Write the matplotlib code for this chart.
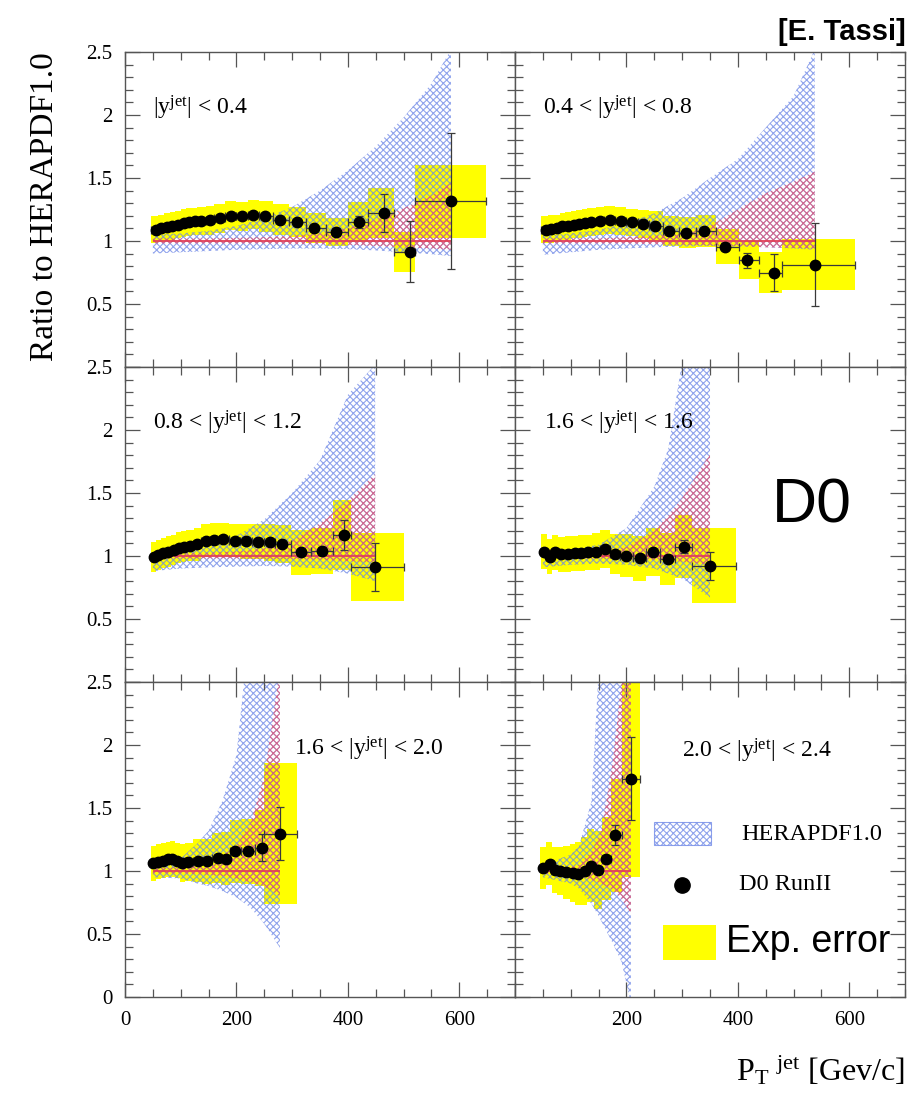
import numpy as np
import matplotlib
matplotlib.use("Agg")
import matplotlib.pyplot as plt
from matplotlib.patches import Rectangle
from matplotlib.ticker import MultipleLocator, FuncFormatter

plt.rcParams['font.family'] = ['Liberation Serif', 'DejaVu Serif']
plt.rcParams['mathtext.fontset'] = 'custom'
plt.rcParams['mathtext.rm'] = 'Liberation Serif'
plt.rcParams['mathtext.it'] = 'Liberation Serif:italic'
plt.rcParams['hatch.linewidth'] = 0.8

YELLOW = '#ffff00'
BLUE = (0.42, 0.52, 0.90, 0.75)
RED = (0.93, 0.30, 0.40, 0.70)
HATCH = 'xxxxx'
FRAME = '#555555'

# ---------------------------------------------------------------------------
# D0 Run II inclusive jets, ratio to HERAPDF1.0, one block per rapidity bin
# pt: point position, edges: bin edges, r: ratio, stat: stat error, syst: exp. error
# band_*: HERAPDF1.0 uncertainty bands (blue = total, red = experimental)
# ---------------------------------------------------------------------------
labels = [r"|y$^{\rm jet}$| < 0.4",
          r"0.4 < |y$^{\rm jet}$| < 0.8",
          r"0.8 < |y$^{\rm jet}$| < 1.2",
          r"1.6 < |y$^{\rm jet}$| < 1.6",
          r"1.6 < |y$^{\rm jet}$| < 2.0",
          r"2.0 < |y$^{\rm jet}$| < 2.4"]

# |y| < 0.4
pt1 = [55, 65, 75, 85, 95, 105, 115, 125, 137, 152, 170, 190, 210, 230, 252, 278, 309, 340, 378, 420, 465, 512, 585]
edges1 = [47, 60, 70, 80, 90, 100, 110, 120, 130, 145, 160, 180, 200, 220, 240, 265, 295, 325, 360, 400, 437, 482, 520, 648]
r1 = [1.09, 1.10, 1.11, 1.12, 1.13, 1.145, 1.15, 1.155, 1.16, 1.165, 1.18, 1.20, 1.195, 1.21, 1.195, 1.17, 1.15, 1.10, 1.07, 1.15, 1.22, 0.915, 1.315]
stat1 = [0, 0, 0, 0, 0, 0, 0, 0, 0, 0, 0, 0, 0, 0, 0.01, 0.01, 0.015, 0.02, 0.03, 0.05, 0.15, 0.24, 0.54]
syst1 = [0.11, 0.11, 0.11, 0.11, 0.11, 0.11, 0.11, 0.11, 0.11, 0.115, 0.115, 0.115, 0.115, 0.115,
         0.12, 0.12, 0.12, 0.12, 0.11, 0.16, 0.20, 0.16, 0.29]
band_pt1 = [50, 100, 150, 200, 250, 300, 350, 400, 450, 500, 550, 585]
blue_hi1 = [1.05, 1.06, 1.08, 1.12, 1.18, 1.27, 1.40, 1.56, 1.75, 1.98, 2.25, 2.52]
blue_lo1 = [0.90, 0.91, 0.92, 0.93, 0.935, 0.94, 0.94, 0.935, 0.925, 0.91, 0.895, 0.88]
red_hi1 = [1.02, 1.02, 1.02, 1.025, 1.03, 1.04, 1.06, 1.10, 1.17, 1.26, 1.36, 1.46]
red_lo1 = [0.98, 0.98, 0.98, 0.98, 0.98, 0.975, 0.975, 0.97, 0.96, 0.95, 0.94, 0.93]

# 0.4 < |y| < 0.8
pt2 = [55, 65, 75, 85, 95, 105, 115, 125, 137, 152, 170, 190, 210, 230, 252, 277, 307, 340, 377, 417, 464, 538]
edges2 = [47, 60, 70, 80, 90, 100, 110, 120, 130, 145, 160, 180, 200, 220, 240, 265, 295, 325, 360, 402, 438, 480, 610]
r2 = [1.09, 1.095, 1.10, 1.115, 1.12, 1.13, 1.135, 1.14, 1.15, 1.16, 1.165, 1.16, 1.147, 1.133, 1.12, 1.08, 1.067, 1.08, 0.955, 0.848, 0.749, 0.813]
stat2 = [0, 0, 0, 0, 0, 0, 0, 0, 0, 0, 0, 0, 0, 0, 0, 0, 0.01, 0.015, 0.03, 0.06, 0.15, 0.33]
syst2 = [0.11, 0.11, 0.11, 0.11, 0.11, 0.11, 0.11, 0.11, 0.11, 0.11, 0.11, 0.11, 0.11, 0.11,
         0.12, 0.12, 0.12, 0.13, 0.14, 0.15, 0.16, 0.20]
band_pt2 = [50, 100, 150, 200, 250, 300, 350, 400, 450, 500, 538]
blue_hi2 = [1.04, 1.06, 1.09, 1.14, 1.22, 1.34, 1.50, 1.65, 1.90, 2.15, 2.52]
blue_lo2 = [0.89, 0.91, 0.93, 0.94, 0.95, 0.955, 0.96, 0.955, 0.95, 0.94, 0.93]
red_hi2 = [1.02, 1.02, 1.02, 1.03, 1.04, 1.06, 1.12, 1.25, 1.38, 1.47, 1.55]
red_lo2 = [0.98, 0.98, 0.98, 0.98, 0.975, 0.97, 0.965, 0.96, 0.95, 0.945, 0.94]

# 0.8 < |y| < 1.2
pt3 = [52, 60, 69, 78, 87, 96, 105, 116, 130, 145, 160, 176, 197, 218, 239, 260, 282, 315, 353, 393, 449]
edges3 = [47, 56, 64, 73, 82, 91, 100, 110, 123, 137, 152, 168, 186, 207, 228, 249, 270, 298, 334, 373, 405, 500]
r3 = [0.99, 1.008, 1.021, 1.035, 1.048, 1.067, 1.075, 1.083, 1.093, 1.12, 1.128, 1.133, 1.12, 1.115, 1.112, 1.107, 1.096, 1.029, 1.04, 1.168, 0.915]
stat3 = [0, 0, 0, 0, 0, 0, 0, 0, 0, 0, 0, 0, 0, 0, 0, 0, 0, 0.02, 0.03, 0.12, 0.19]
syst3 = [0.12, 0.12, 0.12, 0.12, 0.12, 0.12, 0.12, 0.12, 0.13, 0.13, 0.13, 0.13, 0.13,
         0.14, 0.14, 0.15, 0.15, 0.18, 0.18, 0.28, 0.27]
band_pt3 = [50, 100, 150, 200, 250, 300, 350, 400, 449]
blue_hi3 = [1.03, 1.05, 1.09, 1.16, 1.29, 1.50, 1.76, 2.28, 2.52]
blue_lo3 = [0.88, 0.90, 0.91, 0.915, 0.92, 0.915, 0.90, 0.86, 0.80]
red_hi3 = [1.02, 1.02, 1.025, 1.035, 1.06, 1.12, 1.26, 1.44, 1.65]
red_lo3 = [0.98, 0.98, 0.98, 0.98, 0.975, 0.975, 0.97, 0.96, 0.95]

# 1.2 < |y| < 1.6
pt4 = [52, 62, 71, 83, 95, 107, 119, 131, 146, 161, 179, 199, 225, 248, 274, 303, 350]
edges4 = [47, 57, 66, 77, 89, 101, 113, 125, 138, 153, 170, 189, 212, 236, 261, 288, 318, 397]
r4 = [1.035, 0.995, 1.029, 1.013, 1.016, 1.021, 1.024, 1.029, 1.035, 1.053, 1.013, 1.003, 0.981, 1.029, 0.976, 1.075, 0.923]
stat4 = [0, 0, 0, 0, 0, 0, 0, 0, 0, 0, 0, 0, 0, 0.02, 0.02, 0.05, 0.11]
syst4 = [0.14, 0.14, 0.14, 0.14, 0.14, 0.14, 0.14, 0.14, 0.15, 0.15, 0.16, 0.17, 0.18, 0.19, 0.21, 0.25, 0.30]
band_pt4 = [50, 100, 150, 200, 250, 275, 300, 350]
blue_hi4 = [1.03, 1.05, 1.09, 1.22, 1.55, 1.85, 2.55, 3.5]
blue_lo4 = [0.91, 0.93, 0.94, 0.93, 0.90, 0.86, 0.82, 0.67]
red_hi4 = [1.02, 1.02, 1.03, 1.07, 1.20, 1.32, 1.46, 1.81]
red_lo4 = [0.98, 0.98, 0.98, 0.975, 0.97, 0.965, 0.955, 0.93]

# 1.6 < |y| < 2.0
pt5 = [51, 60, 69, 78, 85, 94, 103, 113, 131, 148, 166, 181, 198, 220, 246, 278]
edges5 = [46, 55, 64, 73, 81, 89, 98, 108, 122, 139, 157, 173, 189, 209, 233, 250, 308]
r5 = [1.061, 1.075, 1.083, 1.091, 1.096, 1.083, 1.064, 1.069, 1.083, 1.077, 1.104, 1.096, 1.155, 1.155, 1.184, 1.296]
stat5 = [0, 0, 0, 0, 0, 0, 0, 0, 0, 0, 0, 0, 0, 0.02, 0.107, 0.21]
syst5 = [0.14, 0.14, 0.14, 0.14, 0.14, 0.14, 0.15, 0.15, 0.17, 0.18, 0.20, 0.21, 0.25, 0.26, 0.30, 0.56]
band_pt5 = [50, 100, 130, 150, 175, 200, 225, 250, 278]
blue_hi5 = [1.05, 1.10, 1.22, 1.32, 1.56, 1.92, 3.0, 4.0, 5.0]
blue_lo5 = [0.95, 0.94, 0.90, 0.88, 0.84, 0.79, 0.71, 0.58, 0.39]
red_hi5 = [1.02, 1.03, 1.04, 1.06, 1.12, 1.20, 1.38, 1.75, 2.6]
red_lo5 = [0.98, 0.98, 0.975, 0.97, 0.96, 0.94, 0.91, 0.88, 0.80]

# 2.0 < |y| < 2.4
pt6 = [50, 62, 71, 80, 92, 104, 113, 125, 136, 149, 164, 180, 208]
edges6 = [45, 56, 66, 75, 86, 98, 108, 119, 130, 142, 156, 172, 192, 225]
r6 = [1.024, 1.056, 1.008, 0.997, 0.989, 0.984, 0.976, 1.003, 1.043, 1.008, 1.096, 1.283, 1.731]
stat6 = [0, 0, 0, 0, 0, 0, 0, 0, 0, 0, 0.02, 0.08, 0.33]
syst6 = [0.17, 0.17, 0.18, 0.19, 0.21, 0.23, 0.25, 0.27, 0.29, 0.31, 0.33, 0.45, 0.78]
band_pt6 = [50, 100, 115, 137, 149, 155, 175, 191, 208]
blue_hi6 = [1.05, 1.13, 1.20, 1.55, 2.5, 2.9, 4.0, 5.0, 6.0]
blue_lo6 = [0.95, 0.90, 0.86, 0.74, 0.65, 0.60, 0.43, 0.28, -0.05]
red_hi6 = [1.02, 1.03, 1.05, 1.15, 1.26, 1.32, 1.85, 2.5, 3.3]
red_lo6 = [0.98, 0.97, 0.96, 0.93, 0.91, 0.90, 0.85, 0.78, 0.66]

panels = [
    (pt1, edges1, r1, stat1, syst1, band_pt1, blue_lo1, blue_hi1, red_lo1, red_hi1),
    (pt2, edges2, r2, stat2, syst2, band_pt2, blue_lo2, blue_hi2, red_lo2, red_hi2),
    (pt3, edges3, r3, stat3, syst3, band_pt3, blue_lo3, blue_hi3, red_lo3, red_hi3),
    (pt4, edges4, r4, stat4, syst4, band_pt4, blue_lo4, blue_hi4, red_lo4, red_hi4),
    (pt5, edges5, r5, stat5, syst5, band_pt5, blue_lo5, blue_hi5, red_lo5, red_hi5),
    (pt6, edges6, r6, stat6, syst6, band_pt6, blue_lo6, blue_hi6, red_lo6, red_hi6),
]
label_pos = [(0.072, 0.822), (0.072, 0.822), (0.072, 0.822),
             (0.075, 0.822), (0.432, 0.787), (0.428, 0.78)]


def draw_panel(ax, pt, edges, r, stat, syst, bpt, b_lo, b_hi, rd_lo, rd_hi):
    pt = np.asarray(pt, float)
    r = np.asarray(r, float)
    syst = np.asarray(syst, float)
    lo = np.asarray(edges[:-1], float)
    hi = np.asarray(edges[1:], float)

    # experimental error boxes
    ax.bar(lo, 2 * syst, width=hi - lo, bottom=r - syst, align='edge',
           color=YELLOW, linewidth=0, zorder=1)
    # HERAPDF1.0 bands, hatched on top of the boxes
    ax.fill_between(bpt, b_lo, b_hi, facecolor='none', edgecolor=BLUE,
                    hatch=HATCH, linewidth=0, zorder=2)
    ax.fill_between(bpt, rd_lo, rd_hi, facecolor='none', edgecolor=RED,
                    hatch=HATCH, linewidth=0, zorder=3)
    ax.hlines(1.0, bpt[0], bpt[-1], color=(0.88, 0.25, 0.35), lw=1.3, zorder=4)
    # data
    ax.errorbar(pt, r, yerr=stat, xerr=[pt - lo, hi - pt], fmt='o', ms=7.5,
                mfc='black', mec='black', ecolor='#3a3a3a', elinewidth=0.9,
                capsize=3, capthick=0.9, zorder=5)


fig, axes = plt.subplots(3, 2, figsize=(9.08, 10.94), dpi=100)
fig.subplots_adjust(left=0.1377, right=0.9967, bottom=0.0887, top=0.9525,
                    wspace=0, hspace=0)

for i, ax in enumerate(axes.flat):
    row, col = divmod(i, 2)
    draw_panel(ax, *panels[i])
    ax.text(*label_pos[i], labels[i], transform=ax.transAxes, fontsize=17,
            va='center', ha='left', zorder=6)

    ax.set_xlim(0, 700)
    ax.set_ylim(0, 2.5)
    ax.xaxis.set_major_locator(MultipleLocator(200))
    ax.xaxis.set_minor_locator(MultipleLocator(50))
    ax.yaxis.set_major_locator(MultipleLocator(0.5))
    ax.yaxis.set_minor_locator(MultipleLocator(0.1))
    ax.set_axisbelow(False)
    for sp in ax.spines.values():
        sp.set_color(FRAME)
        sp.set_linewidth(1.0)
        sp.set_zorder(7)
    ax.tick_params(which='both', direction='in', top=True, right=True,
                   color=FRAME, width=0.9, labelsize=15)
    ax.tick_params(which='major', length=11)
    ax.tick_params(which='minor', length=5.5)
    ax.tick_params(axis='y', pad=9)
    ax.tick_params(axis='x', pad=10)

    if col == 0:
        ax.yaxis.set_major_formatter(FuncFormatter(
            lambda v, _, row=row: '' if (abs(v) < 1e-9 and row < 2) else f"{v:g}"))
    else:
        ax.tick_params(labelleft=False)
    if row == 2:
        ax.xaxis.set_major_formatter(FuncFormatter(
            lambda v, _, col=col: '' if (abs(v) < 1e-9 and col == 1) else f"{v:g}"))
    else:
        ax.tick_params(labelbottom=False)

# legend drawn inside the last panel
leg_ax = axes[2, 1]
leg_ax.add_patch(Rectangle((0.356, 0.484), 0.147, 0.07, transform=leg_ax.transAxes,
                           facecolor='none', edgecolor=BLUE, hatch=HATCH, lw=0.8, zorder=6))
leg_ax.text(0.58, 0.516, "HERAPDF1.0", transform=leg_ax.transAxes, fontsize=17.5,
            va='center', ha='left')
leg_ax.plot([0.428], [0.357], 'o', ms=11, color='black', transform=leg_ax.transAxes, zorder=6)
leg_ax.text(0.575, 0.357, "D0 RunII", transform=leg_ax.transAxes, fontsize=17.5,
            va='center', ha='left')
leg_ax.add_patch(Rectangle((0.379, 0.118), 0.136, 0.111, transform=leg_ax.transAxes,
                           facecolor=YELLOW, lw=0, zorder=6))
leg_ax.text(0.542, 0.175, "Exp. error", transform=leg_ax.transAxes, fontsize=27,
            family=['Liberation Sans', 'DejaVu Sans'], va='center', ha='left')

# experiment tag
axes[1, 1].text(0.76, 0.56, "D0", transform=axes[1, 1].transAxes, fontsize=45,
                family=['Liberation Sans', 'DejaVu Sans'],
                va='center', ha='center')

fig.text(0.0496, 0.811, "Ratio to HERAPDF1.0", rotation=90, fontsize=24,
         va='center', ha='center')
fig.text(0.997, 0.021, r"P$_{\rm T}$ $^{\rm jet}$ [Gev/c]", fontsize=23,
         va='center', ha='right')
fig.text(0.997, 0.971, "[E. Tassi]", fontsize=21, fontweight='bold',
         family=['Liberation Sans', 'DejaVu Sans'],
         va='center', ha='right')

fig.savefig("out.png", dpi=100)
